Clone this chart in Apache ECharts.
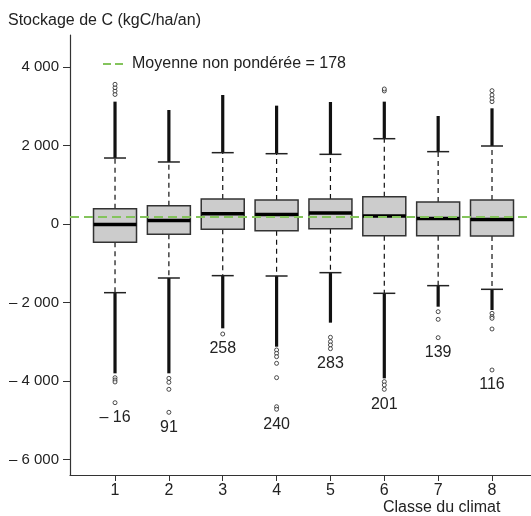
<!DOCTYPE html>
<html>
<head>
<meta charset="utf-8">
<script src="https://cdn.jsdelivr.net/npm/echarts@6/dist/echarts.min.js"></script>
<style>
  html, body { margin: 0; background: #fff; }
  #chart { width: 531px; height: 516px; }
</style>
</head>
<body>
<div id="chart"></div>
<script>
// classes du climat
const classes = [1, 2, 3, 4, 5, 6, 7, 8];
const medians = [-16, 91, 258, 240, 283, 201, 139, 116];
const q1 = [-466, -263, -135, -170, -119, -297, -297, -306];
const q3 = [390, 467, 637, 611, 637, 696, 560, 611];
const whiskerLow = [-1750, -1376, -1316, -1325, -1240, -1766, -1571, -1664];
const whiskerHigh = [1681, 1580, 1817, 1791, 1775, 2173, 1843, 1987];
// end of the continuous run of outliers (drawn as a solid column)
const denseLow = [-3805, -3805, -2658, -3126, -2514, -3932, -2107, -2191];
const denseHigh = [3117, 2904, 3287, 3015, 3108, 3117, 2752, 2947];
// separate outliers [classe, valeur]
const outliers = [
  [1, 3300], [1, 3390], [1, 3473], [1, 3559], [1, -3916], [1, -3975], [1, -4025], [1, -4553],
  [2, -3932], [2, -4033], [2, -4212], [2, -4798],
  [3, -2803],
  [4, -3210], [4, -3295], [4, -3380], [4, -3550], [4, -3915], [4, -4655], [4, -4720],
  [5, -2887], [5, -2998], [5, -3083], [5, -3177],
  [6, 3390], [6, 3440], [6, -4017], [6, -4102], [6, -4212],
  [7, -2234], [7, -2429], [7, -2896],
  [8, 3117], [8, 3202], [8, 3287], [8, 3397], [8, -2276], [8, -2361], [8, -2403], [8, -2675], [8, -3720]
];
const meanValue = 178;
const yTicks = [-6000, -4000, -2000, 0, 2000, 4000];

const FONT = '"Liberation Sans", Arial, sans-serif';

function fmtNum(v) {
  const s = String(Math.abs(v)).replace(/\B(?=(\d{3})+(?!\d))/g, ' ');
  return v < 0 ? '\u2013 ' + s : s;
}

// lowest point of each class, the value label sits just under it
const lowest = classes.map(function (c, i) {
  let m = denseLow[i];
  outliers.forEach(function (o) { if (o[0] === c && o[1] < m) m = o[1]; });
  return m;
});

const boxData = classes.map(function (c, i) {
  return [c, whiskerLow[i], q1[i], medians[i], q3[i], whiskerHigh[i], denseLow[i], denseHigh[i], lowest[i]];
});

function renderBox(params, api) {
  const x = api.value(0);
  const y = function (k) { return api.coord([x, api.value(k)])[1]; };
  const cx = api.coord([x, 0])[0];
  const wl = y(1), b1 = y(2), md = y(3), b3 = y(4), wh = y(5), dl = y(6), dh = y(7), lo = y(8);
  const bw = 43, cw = 22;
  const dash = { stroke: '#111', lineWidth: 1.2, lineDash: [5, 4] };
  return {
    type: 'group',
    children: [
      { type: 'rect', shape: { x: cx - 1.6, y: wl, width: 3.2, height: dl - wl }, style: { fill: '#111' } },
      { type: 'rect', shape: { x: cx - 1.6, y: dh, width: 3.2, height: wh - dh }, style: { fill: '#111' } },
      { type: 'line', shape: { x1: cx, y1: b3, x2: cx, y2: wh }, style: dash },
      { type: 'line', shape: { x1: cx, y1: b1, x2: cx, y2: wl }, style: dash },
      { type: 'line', shape: { x1: cx - cw / 2, y1: wh, x2: cx + cw / 2, y2: wh }, style: { stroke: '#222', lineWidth: 1.5 } },
      { type: 'line', shape: { x1: cx - cw / 2, y1: wl, x2: cx + cw / 2, y2: wl }, style: { stroke: '#222', lineWidth: 1.5 } },
      { type: 'rect', shape: { x: cx - bw / 2, y: b3, width: bw, height: b1 - b3 },
        style: { fill: '#cccccc', stroke: '#333', lineWidth: 1.5 } },
      { type: 'line', shape: { x1: cx - bw / 2, y1: md, x2: cx + bw / 2, y2: md }, style: { stroke: '#000', lineWidth: 3.5 } },
      { type: 'text', x: cx, y: lo + 15,
        style: { text: fmtNum(api.value(3)), fill: '#222', font: '16px ' + FONT,
                 align: 'center', verticalAlign: 'middle' } }
    ]
  };
}

const chart = echarts.init(document.getElementById('chart'));
chart.setOption({
  animation: false,
  title: {
    text: 'Stockage de C (kgC/ha/an)', left: 3, top: 8,
    textStyle: { fontSize: 16, fontWeight: 'normal', color: '#222', fontFamily: 'Liberation Sans' }
  },
  grid: { left: 70, right: 0, top: 35, bottom: 41 },
  xAxis: {
    type: 'value', min: 0.164, max: 8.724,
    splitLine: { show: false },
    axisLine: { onZero: false, lineStyle: { color: '#333', width: 1.2 } },
    axisTick: { length: 6, lineStyle: { color: '#333' }, customValues: classes },
    axisLabel: { customValues: classes, color: '#222', fontSize: 16, margin: 8, fontFamily: 'Liberation Sans' }
  },
  yAxis: {
    type: 'value', min: -6395, max: 4815,
    splitLine: { show: false },
    axisLine: { show: true, onZero: false, lineStyle: { color: '#333', width: 1.2 } },
    axisTick: { show: true, length: 7, lineStyle: { color: '#333' }, customValues: yTicks },
    axisLabel: { customValues: yTicks, color: '#222', fontSize: 15, margin: 11, fontFamily: 'Liberation Sans',
                 formatter: function (v) { return fmtNum(v); } }
  },
  graphic: [
    { type: 'line', shape: { x1: 103, y1: 64, x2: 123, y2: 64 },
      style: { stroke: '#84c45c', lineWidth: 2, lineDash: [8, 4] } },
    { type: 'text', x: 132, y: 64,
      style: { text: 'Moyenne non pondérée = 178', fill: '#222', font: '16px ' + FONT, verticalAlign: 'middle' } },
    { type: 'text', x: 383, y: 508,
      style: { text: 'Classe du climat', fill: '#222', font: '16px ' + FONT, verticalAlign: 'middle' } }
  ],
  series: [
    { type: 'custom', renderItem: renderBox, data: boxData, z: 2 },
    {
      type: 'scatter', data: outliers, symbol: 'circle', symbolSize: 4, z: 3,
      itemStyle: { color: '#fff', borderColor: '#222', borderWidth: 1 }
    },
    {
      type: 'line', data: [], z: 5,
      markLine: {
        silent: true, symbol: 'none', label: { show: false },
        lineStyle: { color: '#84c45c', type: [9, 5], width: 2 },
        data: [{ yAxis: meanValue }]
      }
    }
  ]
});
</script>
</body>
</html>
